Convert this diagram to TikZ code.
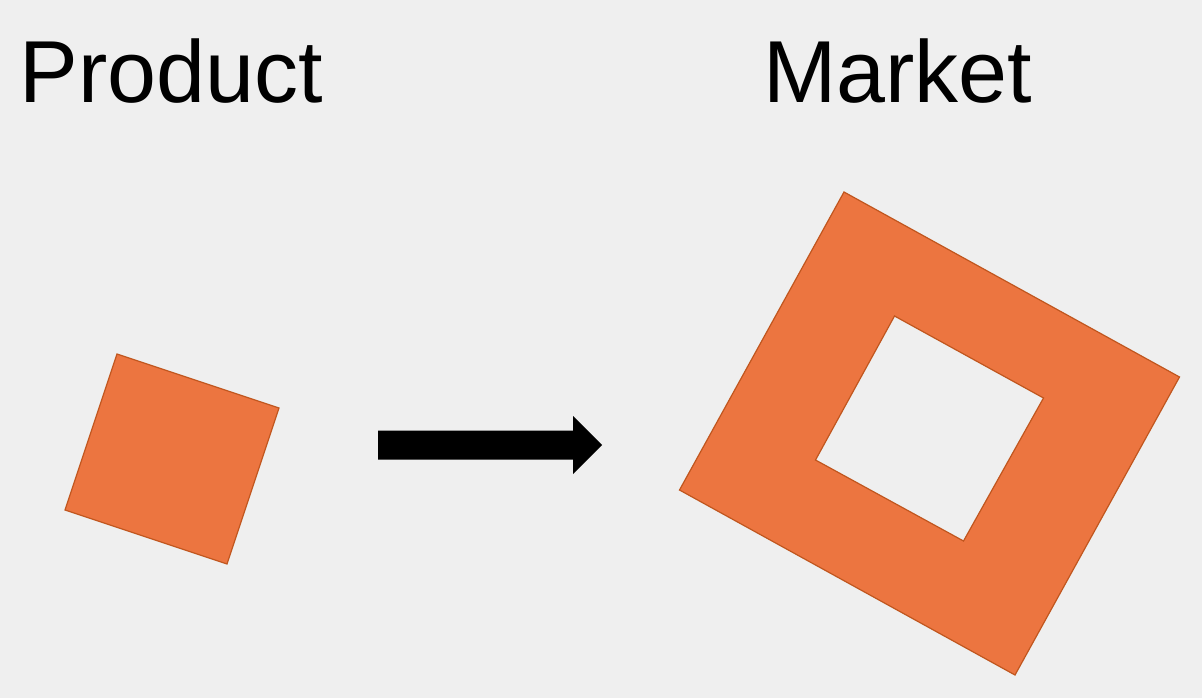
\documentclass[tikz,border=0pt]{standalone}
\usepackage{fontspec}
\setmainfont{Liberation Sans}
\usepackage{tikz}
\usetikzlibrary{calc}
\definecolor{bgGrey}{HTML}{EFEFEF}
\definecolor{blockOrange}{HTML}{EC7540}
\definecolor{edgeOrange}{HTML}{C0561E}
\tikzset{
  title/.style={anchor=base west, inner sep=0pt, font=\fontsize{88}{100}\selectfont},
  block/.style={fill=blockOrange, draw=edgeOrange, line width=1.2pt, line join=miter, even odd rule}
}
\begin{document}
\begin{tikzpicture}[x=1pt,y=-1pt,>=latex]
  \begin{scope}
\fill[bgGrey] (0,0) rectangle (1202,698);
\useasboundingbox (0,0) rectangle (1202,698);

\node[title] (t1) at (19.5,102.7) {Product};
\node[title] (t2) at (763,102.7) {Market};

% small square
\draw[block] (117,354) -- (279,408) -- (227,564) -- (65,510) -- cycle;

% block arrow
\coordinate (a1) at (378,445);
\coordinate (a2) at (602,445);
\fill[black] ($(a1)+(0,-14.5)$) -- (573,430.5) -- (573,416) -- (a2)
  -- (573,474) -- (573,459.5) -- ($(a1)+(0,14.5)$) -- cycle;

% large square with hole
\draw[block] (844,192) -- (1179.5,377) -- (1015,675) -- (679.5,490) -- cycle
  (894.5,316) -- (1043.5,398) -- (963.5,541) -- (815.5,460) -- cycle;
\end{scope}
\end{tikzpicture}
\end{document}
